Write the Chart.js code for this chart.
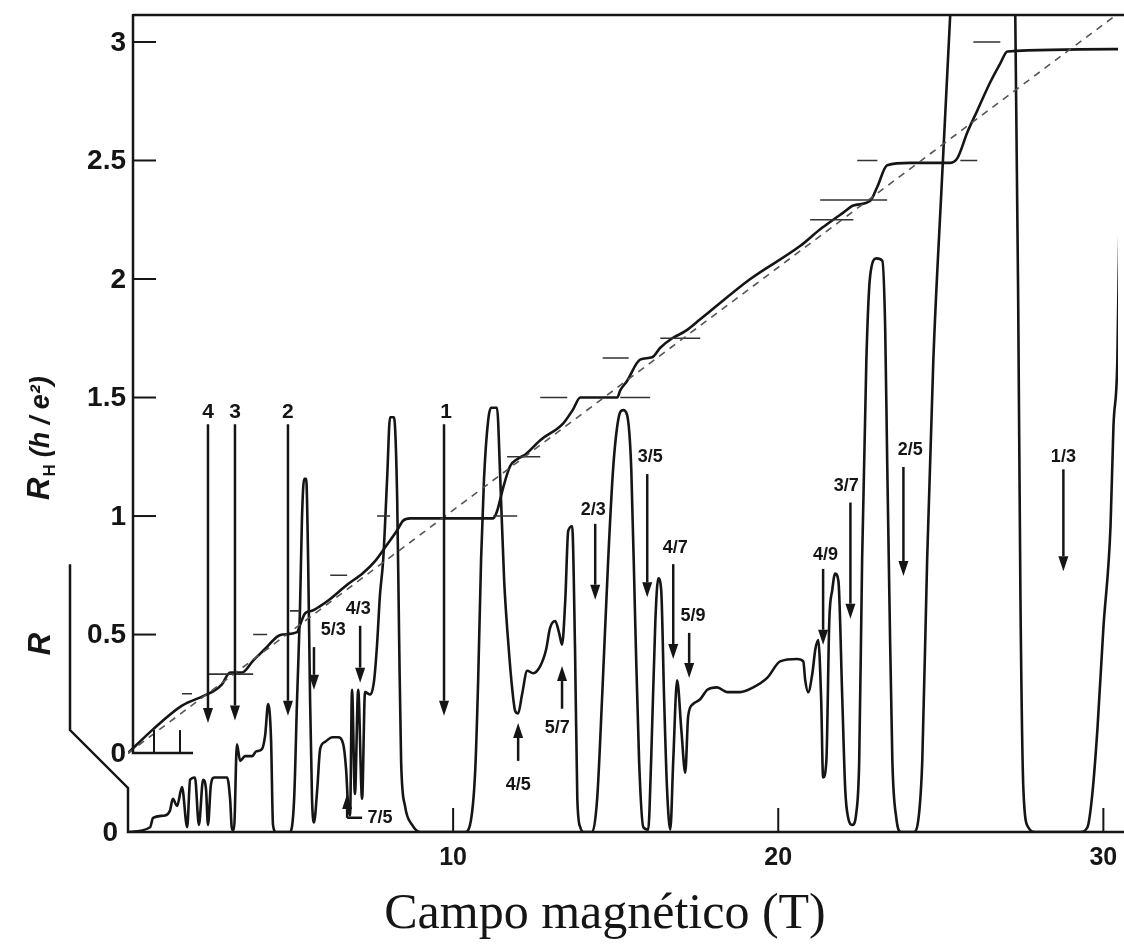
<!DOCTYPE html>
<html>
<head>
<meta charset="utf-8">
<script src="https://cdn.jsdelivr.net/npm/chart.js@4"></script>
<style>
  html, body { margin: 0; background: #fff; }
  canvas { display: block; }
</style>
</head>
<body>
<canvas id="c" width="1124" height="947"></canvas>
<script>
// Hall resistance R_H in units of h/e^2
const hallField = [0, 0.77, 1.66, 2.31, 2.46, 2.62, 2.89, 3.14, 3.51, 3.85, 4.22, 4.58, 4.74, 5.20, 5.29, 5.45,
  5.66, 5.91, 6.22, 6.74, 7.23, 7.60, 7.97, 8.28, 8.46, 8.68, 11.23, 11.35, 11.54, 11.75, 11.97, 12.22, 12.68,
  13.38, 13.69, 13.91, 15.05, 15.14, 15.35, 15.75, 16.12, 16.37, 16.74, 17.14, 17.60, 19.14, 20.68, 21.29,
  21.69, 22.00, 22.31, 22.83, 23.05, 23.35, 24.06, 25.29, 25.51, 25.82, 26.12, 26.52, 26.83, 27.05, 30.45];
const hallValue = [0, 0.10, 0.20, 0.24, 0.25, 0.26, 0.29, 0.34, 0.34, 0.39, 0.44, 0.49, 0.50, 0.51, 0.54, 0.59,
  0.60, 0.62, 0.65, 0.71, 0.76, 0.81, 0.88, 0.94, 0.98, 0.99, 0.99, 1.02, 1.12, 1.21, 1.24, 1.26, 1.32,
  1.39, 1.45, 1.50, 1.50, 1.53, 1.57, 1.66, 1.67, 1.71, 1.75, 1.78, 1.83, 2.00, 2.14, 2.21,
  2.25, 2.28, 2.31, 2.33, 2.39, 2.48, 2.49, 2.49, 2.51, 2.62, 2.71, 2.83, 2.91, 2.96, 2.97];

// classical Hall line (dashed), two end points
const classicField = [0, 30.45];
const classicValue = [0, 3.12];

// short level marks at the quantised values
const plateauLevel = [0.25, 0.333, 0.5, 0.6, 0.75, 1, 1, 1.25, 1.5, 1.5, 1.667, 1.75, 2.25, 2.333, 2.5, 2.5, 3];
const plateauFrom  = [1.66, 2.46, 3.85, 4.98, 6.22, 7.66, 11.23, 11.66, 12.68, 15.14, 14.6, 16.37, 20.98, 21.29, 22.43, 25.6, 26.0];
const plateauTo    = [1.97, 3.85, 4.28, 5.29, 6.74, 8.06, 11.97, 12.68, 13.51, 16.06, 15.4, 17.6, 22.31, 23.35, 23.05, 26.12, 26.83];

// longitudinal resistance R (arbitrary units, same scale length as R_H)
const rxxField = [0.00, 0.68, 0.77, 1.14, 1.29, 1.38, 1.51, 1.66, 1.82, 1.91, 2.06, 2.18, 2.31, 2.40, 2.46, 2.55,
  2.65, 3.05, 3.14, 3.20, 3.26, 3.35, 3.45, 3.60, 3.82, 3.94, 4.12, 4.22, 4.31, 4.40, 4.46, 4.55, 4.98, 5.11,
  5.20, 5.29, 5.35, 5.42, 5.48, 5.54, 5.60, 5.66, 5.72, 5.82, 5.91, 6.06, 6.28, 6.46, 6.62, 6.71, 6.77, 6.83,
  6.89, 6.98, 7.08, 7.20, 7.29, 7.45, 7.57, 7.66, 7.75, 7.85, 7.97, 8.06, 8.18, 8.28, 8.34, 8.40, 8.52, 8.74,
  8.98, 10.37, 10.52, 10.68, 10.77, 10.86, 10.95, 11.08, 11.17, 11.35, 11.45, 11.57, 11.69, 11.82, 11.91, 12.00,
  12.12, 12.28, 12.46, 12.68, 12.86, 12.98, 13.14, 13.26, 13.35, 13.45, 13.54, 13.66, 13.75, 13.82, 13.91, 14.03,
  14.28, 14.43, 14.58, 14.77, 14.92, 15.08, 15.23, 15.35, 15.48, 15.60, 15.72, 15.85, 16.00, 16.09, 16.22, 16.31,
  16.40, 16.49, 16.58, 16.68, 16.77, 16.89, 17.02, 17.14, 17.23, 17.38, 17.60, 17.82, 18.12, 18.43, 18.83, 19.23,
  19.66, 20.06, 20.58, 20.77, 20.83, 20.92, 21.05, 21.14, 21.23, 21.32, 21.38, 21.48, 21.57, 21.66, 21.75, 21.85,
  21.97, 22.06, 22.15, 22.28, 22.40, 22.49, 22.58, 22.71, 22.83, 23.02, 23.20, 23.29, 23.35, 23.42, 23.51, 23.63,
  23.78, 24.18, 24.34, 24.43, 24.58, 24.77, 25.02, 25.29, 25.45, 27.14, 27.29, 27.38, 27.45, 27.54, 27.69, 27.91,
  29.29, 29.51, 29.66, 29.82, 30.00, 30.22, 30.31, 30.43, 30.55];
const rxxValue = [0.00, 0.02, 0.06, 0.07, 0.09, 0.14, 0.11, 0.19, 0.02, 0.22, 0.23, 0.03, 0.22, 0.18, 0.03, 0.20,
  0.23, 0.23, 0.14, 0.01, 0.01, 0.37, 0.30, 0.32, 0.32, 0.34, 0.35, 0.41, 0.54, 0.39, 0.03, 0.00, 0.00, 0.14,
  0.56, 0.94, 1.32, 1.49, 1.49, 1.15, 0.56, 0.14, 0.04, 0.18, 0.35, 0.38, 0.40, 0.40, 0.37, 0.26, 0.11, 0.07,
  0.60, 0.16, 0.60, 0.14, 0.59, 0.58, 0.64, 0.79, 1.00, 1.15, 1.49, 1.75, 1.75, 1.40, 0.81, 0.30, 0.11, 0.03,
  0.00, 0.00, 0.03, 0.26, 0.64, 1.15, 1.49, 1.74, 1.79, 1.79, 1.49, 1.06, 0.81, 0.60, 0.51, 0.50,
  0.58, 0.68, 0.67, 0.70, 0.77, 0.86, 0.89, 0.84, 0.79, 0.98, 1.27, 1.29, 0.77, 0.14, 0.02, 0.00,
  0.00, 0.14, 0.56, 1.15, 1.53, 1.74, 1.78, 1.76, 1.53, 0.89, 0.30, 0.02, 0.01, 0.30, 0.89, 1.07,
  1.02, 0.56, 0.18, 0.01, 0.30, 0.64, 0.43, 0.25, 0.49, 0.54, 0.56, 0.60, 0.61, 0.59, 0.59, 0.61,
  0.65, 0.72, 0.73, 0.72, 0.64, 0.59, 0.67, 0.77, 0.81, 0.56, 0.23, 0.30, 0.89, 1.02, 1.09, 1.06,
  0.56, 0.18, 0.06, 0.03, 0.08, 0.30, 1.15, 1.99, 2.35, 2.42, 2.41, 2.12, 1.57, 0.98, 0.30, 0.06,
  0.00, 0.00, 0.09, 0.30, 1.15, 1.99, 2.71, 3.45, 3.93, 3.93, 3.45, 2.24, 0.98, 0.18, 0.02, 0.00,
  0.00, 0.02, 0.16, 0.44, 0.86, 1.29, 1.71, 1.99, 3.09];

// filling-factor arrows (positions in field and in R units)
const arrowText  = ['4', '3', '2', '1', '5/3', '4/3', '7/5', '4/5', '5/7', '2/3', '3/5', '4/7', '5/9', '4/9', '3/7', '2/5', '1/3'];
const arrowField = [2.46, 3.29, 4.92, 9.72, 5.72, 7.14, 6.74, 12.00, 13.35, 14.37, 15.97, 16.77, 17.26, 21.38, 22.22, 23.85, 28.77];
const arrowFrom  = [1.72, 1.72, 1.72, 1.72, 0.78, 0.87, 0.06, 0.30, 0.52, 1.30, 1.51, 1.13, 0.84, 1.11, 1.39, 1.54, 1.53];
const arrowTo    = [0.46, 0.47, 0.49, 0.49, 0.60, 0.63, 0.16, 0.46, 0.70, 0.98, 0.99, 0.73, 0.65, 0.79, 0.90, 1.08, 1.10];
const textField  = [2.46, 3.29, 4.92, 9.78, 6.31, 7.08, 7.75, 12.00, 13.20, 14.31, 16.06, 16.83, 17.38, 21.45, 22.09, 24.06, 28.77];
const textLevel  = [1.77, 1.77, 1.77, 1.77, 0.85, 0.94, 0.06, 0.20, 0.44, 1.36, 1.58, 1.20, 0.91, 1.17, 1.46, 1.61, 1.58];
const arrowTail  = [null, null, null, null, null, null, 7.20, null, null, null, null, null, null, null, null, null, null];

const hallTicks = [0, 0.5, 1, 1.5, 2, 2.5, 3];
const fieldTicks = [10, 20, 30];
const hallMinor = [0.8, 1.6];

const ink = '#151515';
const pts = (xs, ys) => xs.map((v, i) => ({ x: v, y: ys[i] }));

const plateauPts = [];
plateauLevel.forEach((v, i) => {
  plateauPts.push({ x: plateauFrom[i], y: v }, { x: plateauTo[i], y: v }, { x: plateauTo[i] + 0.01, y: null });
});

function drawArrow(ctx, px, y1, y2) {
  const dir = y2 > y1 ? 1 : -1, head = 15, half = 5;
  ctx.beginPath();
  ctx.moveTo(px, y1);
  ctx.lineTo(px, y2 - dir * head);
  ctx.stroke();
  ctx.beginPath();
  ctx.moveTo(px - half, y2 - dir * head);
  ctx.lineTo(px + half, y2 - dir * head);
  ctx.lineTo(px, y2);
  ctx.closePath();
  ctx.fill();
}

const decor = {
  id: 'decor',
  afterDraw(chart) {
    const { ctx, chartArea: a } = chart;
    const x = chart.scales.x, yH = chart.scales.yH, yR = chart.scales.yR;
    ctx.save();
    ctx.strokeStyle = ink;
    ctx.fillStyle = ink;
    ctx.lineWidth = 2.5;
    ctx.lineCap = 'butt';

    const axX = a.left + 5;
    const h0 = yH.getPixelForValue(0);

    // frame: top border, R_H axis and its short zero line
    ctx.beginPath();
    ctx.moveTo(axX, a.top + 1);
    ctx.lineTo(a.right + 6, a.top + 1);
    ctx.moveTo(axX, a.top);
    ctx.lineTo(axX, h0);
    ctx.lineTo(x.getPixelForValue(2.0), h0);
    ctx.stroke();
    ctx.lineWidth = 2;
    hallMinor.forEach(v => {
      const px = x.getPixelForValue(v);
      ctx.beginPath(); ctx.moveTo(px, h0); ctx.lineTo(px, h0 - 23); ctx.stroke();
    });

    // R_H ticks and labels
    ctx.font = 'bold 28px "Liberation Sans", Arial, sans-serif';
    ctx.textAlign = 'right';
    ctx.textBaseline = 'middle';
    hallTicks.forEach(v => {
      const py = yH.getPixelForValue(v);
      if (v > 0) {
        ctx.beginPath(); ctx.moveTo(axX, py); ctx.lineTo(axX + 23, py); ctx.stroke();
      }
      ctx.fillText(String(v), axX - 7, py + 1);
    });

    // bent R axis and baseline
    ctx.lineWidth = 2.5;
    ctx.beginPath();
    ctx.moveTo(a.left - 58, yR.getPixelForValue(1.13));
    ctx.lineTo(a.left - 58, yR.getPixelForValue(0.43));
    ctx.lineTo(a.left, yR.getPixelForValue(0.186));
    ctx.lineTo(a.left, a.bottom);
    ctx.lineTo(a.right + 6, a.bottom);
    ctx.stroke();
    ctx.fillText('0', a.left - 10, a.bottom + 1);

    // field ticks
    ctx.lineWidth = 2;
    ctx.font = 'bold 25px "Liberation Sans", Arial, sans-serif';
    ctx.textAlign = 'center';
    fieldTicks.forEach(v => {
      const px = x.getPixelForValue(v);
      ctx.beginPath(); ctx.moveTo(px, a.bottom); ctx.lineTo(px, a.bottom - 24); ctx.stroke();
      ctx.fillText(String(v), px, a.bottom + 26);
    });

    // axis titles
    ctx.font = '50px "Liberation Serif", "Times New Roman", serif';
    ctx.textBaseline = 'alphabetic';
    ctx.fillText('Campo magnético (T)', a.left + 477, a.bottom + 96);

    ctx.save();
    ctx.translate(49, 500);
    ctx.rotate(-Math.PI / 2);
    ctx.textAlign = 'left';
    ctx.font = 'italic bold 31px "Liberation Sans", Arial, sans-serif';
    ctx.fillText('R', 0, 0);
    let w = ctx.measureText('R').width;
    ctx.font = 'bold 17px "Liberation Sans", Arial, sans-serif';
    ctx.fillText('H', w + 1, 6);
    w += ctx.measureText('H').width + 8;
    ctx.font = 'italic bold 27px "Liberation Sans", Arial, sans-serif';
    ctx.fillText('(h / e²)', w, 0);
    ctx.restore();

    ctx.save();
    ctx.translate(50, 644);
    ctx.rotate(-Math.PI / 2);
    ctx.textAlign = 'center';
    ctx.font = 'italic bold 31px "Liberation Sans", Arial, sans-serif';
    ctx.fillText('R', 0, 0);
    ctx.restore();

    // arrows and filling factors
    ctx.lineWidth = 2.5;
    ctx.textBaseline = 'middle';
    ctx.textAlign = 'center';
    arrowText.forEach((t, i) => {
      const px = x.getPixelForValue(arrowField[i]);
      const y1 = yR.getPixelForValue(arrowFrom[i]);
      const y2 = yR.getPixelForValue(arrowTo[i]);
      drawArrow(ctx, px, y1, y2);
      if (arrowTail[i] !== null) {
        ctx.beginPath(); ctx.moveTo(px, y1); ctx.lineTo(x.getPixelForValue(arrowTail[i]), y1); ctx.stroke();
      }
      ctx.font = t.length > 1 ? 'bold 18px "Liberation Sans", Arial, sans-serif'
                              : 'bold 21px "Liberation Sans", Arial, sans-serif';
      ctx.fillText(t, x.getPixelForValue(textField[i]), yR.getPixelForValue(textLevel[i]));
    });
    ctx.restore();
  }
};

new Chart(document.getElementById('c'), {
  type: 'line',
  data: {
    datasets: [
      {
        label: 'clásica',
        data: pts(classicField, classicValue),
        yAxisID: 'yH',
        borderColor: '#555',
        borderWidth: 1.6,
        borderDash: [7, 6],
        pointRadius: 0
      },
      {
        label: 'mesetas',
        data: plateauPts,
        yAxisID: 'yH',
        borderColor: '#333',
        borderWidth: 1.6,
        pointRadius: 0,
        spanGaps: false
      },
      {
        label: 'R',
        data: pts(rxxField, rxxValue),
        yAxisID: 'yR',
        borderColor: ink,
        borderWidth: 2.6,
        pointRadius: 0,
        cubicInterpolationMode: 'monotone'
      },
      {
        label: 'R_H',
        data: pts(hallField, hallValue),
        yAxisID: 'yH',
        borderColor: ink,
        borderWidth: 2.6,
        pointRadius: 0,
        cubicInterpolationMode: 'monotone'
      }
    ]
  },
  options: {
    responsive: false,
    animation: false,
    events: [],
    layout: { padding: { left: 128, right: 6, top: 14, bottom: 115 } },
    plugins: { legend: { display: false }, tooltip: { enabled: false } },
    elements: { line: { borderJoinStyle: 'round' } },
    scales: {
      x: { type: 'linear', min: 0, max: 30.45, display: false },
      yH: { type: 'linear', min: -0.333, max: 3.118, display: false },
      yR: { type: 'linear', min: 0, max: 3.451, display: false }
    }
  },
  plugins: [decor]
});
</script>
</body>
</html>
